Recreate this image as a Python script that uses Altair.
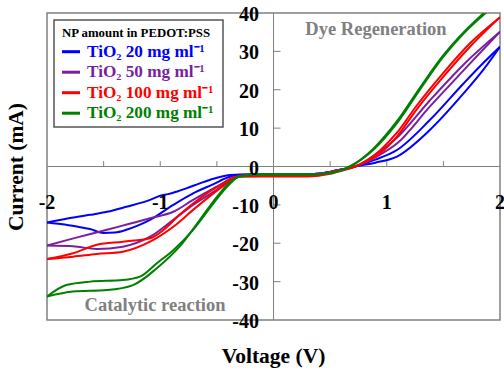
import altair as alt
import pandas as pd

series = ["TiO₂ 20 mg ml⁻¹", "TiO₂ 50 mg ml⁻¹", "TiO₂ 100 mg ml⁻¹", "TiO₂ 200 mg ml⁻¹"]
colors = ["#0000ff", "#7a1fa2", "#ff0000", "#008000"]

# TiO2 20 mg/ml
b20_ax = [-2.0, -1.83, -1.62, -1.47, -1.3, -1.09, -1.0, -0.93, -0.85, -0.77, -0.65, -0.53, -0.4, -0.3, -0.1, 0.1, 0.3, 0.42, 0.5, 0.6, 0.72, 0.9, 1.09, 1.38, 1.68, 1.85, 2.0]
b20_ay = [-14.6, -13.6, -12.6, -11.8, -10.5, -8.7, -7.6, -7.2, -6.5, -5.7, -4.4, -3.2, -2.3, -2.1, -2.0, -2.0, -2.0, -1.8, -1.4, -0.8, 0.0, 1.8, 4.3, 12.1, 21.7, 26.9, 31.2]
b20_bx = [-2.0, -1.83, -1.62, -1.5, -1.4, -1.3, -1.2, -1.09, -0.885, -0.71, -0.53, -0.4, -0.3, -0.1, 0.1, 0.3, 0.42, 0.5, 0.6, 0.72, 0.9, 1.09, 1.38, 1.68, 1.85, 2.0]
b20_by = [-14.6, -15.2, -16.3, -17.3, -17.2, -16.5, -15.4, -13.9, -10.0, -7.0, -4.6, -2.8, -2.2, -2.0, -2.0, -2.0, -1.8, -1.4, -0.8, 0.0, 1.0, 2.6, 9.5, 19.1, 25.1, 31.2]

# TiO2 50 mg/ml
p50_ax = [-2.0, -1.75, -1.47, -1.28, -1.09, -0.885, -0.71, -0.53, -0.41, -0.3, -0.1, 0.1, 0.3, 0.42, 0.5, 0.6, 0.72, 0.91, 1.09, 1.38, 1.68, 2.0]
p50_ay = [-20.6, -18.6, -16.5, -15.0, -13.5, -11.8, -8.7, -5.7, -3.8, -2.4, -2.0, -2.0, -2.0, -1.8, -1.4, -0.8, 0.0, 3.3, 7.5, 17.2, 26.6, 35.1]
p50_bx = [-2.0, -1.77, -1.56, -1.33, -1.09, -0.885, -0.71, -0.53, -0.41, -0.3, -0.1, 0.1, 0.3, 0.42, 0.5, 0.6, 0.72, 0.91, 1.09, 1.38, 1.68, 2.0]
p50_by = [-20.6, -20.8, -21.5, -20.9, -18.3, -13.9, -10.0, -6.6, -4.2, -2.5, -2.0, -2.0, -2.0, -1.8, -1.4, -0.8, 0.0, 2.6, 6.0, 15.6, 25.1, 35.1]

# TiO2 100 mg/ml
r100_ax = [-2.0, -1.77, -1.56, -1.33, -1.09, -0.97, -0.83, -0.65, -0.47, -0.35, -0.2, 0.0, 0.2, 0.35, 0.45, 0.55, 0.72, 0.94, 1.09, 1.26, 1.5, 1.735, 2.0]
r100_ay = [-24.1, -22.6, -20.4, -19.6, -18.7, -16.5, -12.6, -8.3, -4.8, -2.8, -2.3, -2.3, -2.3, -2.2, -1.8, -1.2, 0.0, 4.2, 8.8, 15.7, 24.4, 32.1, 38.9]
r100_bx = [-2.0, -1.77, -1.56, -1.33, -1.09, -0.885, -0.71, -0.53, -0.41, -0.3, -0.1, 0.1, 0.3, 0.4, 0.5, 0.6, 0.72, 0.94, 1.09, 1.26, 1.5, 1.735, 2.0]
r100_by = [-24.1, -23.5, -22.8, -22.2, -19.6, -15.7, -11.3, -7.0, -4.4, -2.7, -2.6, -2.6, -2.6, -2.4, -1.9, -1.1, 0.0, 3.4, 7.8, 14.7, 23.4, 31.2, 38.9]

# TiO2 200 mg/ml
g200_ax = [-2.0, -1.83, -1.62, -1.33, -1.18, -1.03, -0.885, -0.71, -0.53, -0.41, -0.3, -0.1, 0.1, 0.3, 0.4, 0.5, 0.6, 0.675, 0.88, 1.09, 1.29, 1.5, 1.68, 1.86, 2.0]
g200_ay = [-33.9, -30.9, -30.0, -29.6, -28.7, -25.2, -21.8, -16.5, -9.6, -5.3, -2.6, -2.1, -2.1, -2.1, -2.0, -1.7, -1.0, 0.0, 4.6, 11.8, 20.4, 29.0, 35.0, 40.1, 44.0]
g200_bx = [-2.0, -1.77, -1.47, -1.24, -1.03, -0.83, -0.65, -0.5, -0.38, -0.3, -0.1, 0.1, 0.3, 0.4, 0.5, 0.6, 0.675, 0.88, 1.09, 1.29, 1.5, 1.68, 1.86, 2.0]
g200_by = [-33.9, -32.6, -32.2, -30.9, -26.5, -20.9, -13.9, -7.9, -4.0, -2.6, -2.1, -2.1, -2.1, -2.0, -1.7, -1.0, 0.0, 4.3, 11.3, 19.9, 28.6, 34.7, 39.7, 43.5]

x_ticks = [-1.5, -1.0, -0.5, 0.5, 1.0, 1.5]
y_ticks = [-30, -20, -10, 10, 20, 30]
x_labels = [-2, -1, 0, 1, 2]
y_labels = [-40, -30, -20, -10, 0, 10, 20, 30, 40]

branches = [
    (series[0], "a", b20_ax, b20_ay), (series[0], "b", b20_bx, b20_by),
    (series[1], "a", p50_ax, p50_ay), (series[1], "b", p50_bx, p50_by),
    (series[2], "a", r100_ax, r100_ay), (series[2], "b", r100_bx, r100_by),
    (series[3], "a", g200_ax, g200_ay), (series[3], "b", g200_bx, g200_by),
]
rows = []
for s, br, xs_, ys_ in branches:
    for x, y in zip(xs_, ys_):
        rows.append({"series": s, "branch": s + br, "V": x, "I": y})
df = pd.DataFrame(rows)

FONT = "Liberation Serif"
xs = alt.Scale(domain=[-2, 2], nice=False, zero=False)
ys = alt.Scale(domain=[-40, 40], nice=False, zero=False)
GRAY = "#808080"

lines = alt.Chart(df).mark_line(strokeWidth=2, clip=True, interpolate="monotone").encode(
    x=alt.X("V:Q", scale=xs, axis=None),
    y=alt.Y("I:Q", scale=ys, axis=None),
    color=alt.Color("series:N", scale=alt.Scale(domain=series, range=colors), legend=None),
    detail="branch:N",
)

zero = pd.DataFrame({"z": [0]})
hline = alt.Chart(zero).mark_rule(color=GRAY, strokeWidth=1).encode(
    y=alt.Y("z:Q", scale=ys, axis=None))
vline = alt.Chart(zero).mark_rule(color=GRAY, strokeWidth=1).encode(
    x=alt.X("z:Q", scale=xs, axis=None))

xt = alt.Chart(pd.DataFrame({"t": x_ticks})).transform_calculate(y0="0", y1="1.4").mark_rule(
    color=GRAY, strokeWidth=1).encode(
    x=alt.X("t:Q", scale=xs, axis=None),
    y=alt.Y("y0:Q", scale=ys, axis=None), y2="y1:Q")
yt = alt.Chart(pd.DataFrame({"t": y_ticks})).transform_calculate(x0="0", x1="0.062").mark_rule(
    color=GRAY, strokeWidth=1).encode(
    y=alt.Y("t:Q", scale=ys, axis=None),
    x=alt.X("x0:Q", scale=xs, axis=None), x2="x1:Q")

xl = alt.Chart(pd.DataFrame({"t": x_labels})).mark_text(
    font=FONT, fontWeight="bold", fontSize=20, align="center", baseline="middle").encode(
    x=alt.X("t:Q", scale=xs, axis=None), y=alt.value(190), text="t:N")
yl = alt.Chart(pd.DataFrame({"t": y_labels})).mark_text(
    font=FONT, fontWeight="bold", fontSize=20, align="right", baseline="middle", dy=2).encode(
    y=alt.Y("t:Q", scale=ys, axis=None), x=alt.value(212), text="t:N")

one = pd.DataFrame({"a": [0]})
ytitle = alt.Chart(one).mark_text(text="Current (mA)", font=FONT, fontWeight="bold", fontSize=21.5,
                                  angle=270, align="center", baseline="middle").encode(
    x=alt.value(-30), y=alt.value(154))
xtitle = alt.Chart(one).mark_text(text="Voltage (V)", font=FONT, fontWeight="bold", fontSize=21.5,
                                  align="center", baseline="middle").encode(
    x=alt.value(226.5), y=alt.value(344))

ann1 = alt.Chart(one).mark_text(text="Dye Regeneration", font=FONT, fontWeight="bold", fontSize=18.5,
                                color=GRAY, align="center", baseline="middle").encode(
    x=alt.value(329), y=alt.value(16))
ann2 = alt.Chart(one).mark_text(text="Catalytic reaction", font=FONT, fontWeight="bold", fontSize=18.5,
                                color=GRAY, align="center", baseline="middle").encode(
    x=alt.value(108), y=alt.value(292))

box = alt.Chart(one).mark_rect(fill="white", stroke="#555555", strokeWidth=1.5).encode(
    x=alt.value(7), x2=alt.value(176), y=alt.value(7), y2=alt.value(114))
ltitle = alt.Chart(one).mark_text(text="NP amount in PEDOT:PSS", font=FONT, fontWeight="bold",
                                  fontSize=12.8, align="left", baseline="middle", color="black").encode(
    x=alt.value(15), y=alt.value(20))
legend_layers = [box, ltitle]
for i, (s, c) in enumerate(zip(series, colors)):
    yy = 38.7 + 20.5 * i
    legend_layers.append(alt.Chart(one).mark_rule(color=c, strokeWidth=3).encode(
        x=alt.value(15), x2=alt.value(33), y=alt.value(yy)))
    legend_layers.append(alt.Chart(one).mark_text(text=s, font=FONT, fontWeight="bold", fontSize=17.2,
                                                  color=c, align="left", baseline="middle").encode(
        x=alt.value(40), y=alt.value(yy)))

chart = alt.layer(hline, vline, xt, yt, lines, xl, yl, ytitle, xtitle, ann1, ann2,
                  *legend_layers).properties(
    width=453, height=307,
    autosize=alt.AutoSizeParams(type="none"),
    padding={"left": 47, "top": 13, "right": 4, "bottom": 52},
    background="white",
).configure_view(stroke=GRAY, strokeWidth=1.5)

chart.save("out.html", embed_options={"renderer": "svg", "actions": False})
